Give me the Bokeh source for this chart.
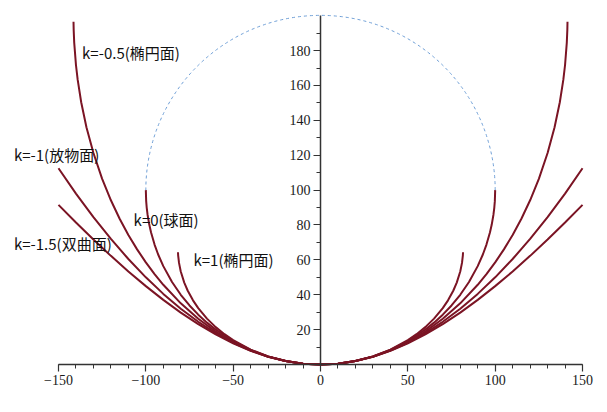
import math
from bokeh.plotting import figure
from bokeh.models import FixedTicker, Label
from bokeh.embed import file_html
from bokeh.resources import INLINE

# ---- data (sag z vs radius r; curves are symmetric) ----
r_k1 = [0, 10, 20, 30, 40, 50, 55, 60, 65, 70, 73, 76, 78, 80, 81, 81.5, 81.6]
z_k1 = [0, 0.50, 2.03, 4.66, 8.55, 13.96, 17.39, 21.45, 26.32, 32.35, 36.80, 42.30, 46.96, 53.33, 58.27, 62.63, 64.34]

r_k0 = [0, 10, 20, 30, 40, 50, 60, 65, 70, 75, 80, 85, 90, 93, 95, 97, 98, 99, 99.5, 99.8, 100]
z_k0 = [0, 0.50, 2.02, 4.61, 8.35, 13.40, 20.00, 24.01, 28.59, 33.86, 40.00, 47.32, 56.41, 63.24, 68.78, 75.69, 80.10, 85.89, 90.01, 93.68, 100.0]

r_km05 = [0, 10, 20, 30, 40, 50, 60, 70, 80, 90, 95, 100, 105, 110, 115, 120, 125, 130, 134, 137, 139, 140, 141, 141.3, 141.4]
z_km05 = [0, 0.50, 2.01, 4.55, 8.17, 12.92, 18.89, 26.22, 35.08, 45.73, 51.85, 58.58, 66.02, 74.29, 83.60, 94.16, 106.46, 121.26, 136.06, 150.38, 163.15, 171.72, 184.57, 191.72, 196.54]

r_km1 = [0, 10, 20, 30, 40, 50, 60, 70, 80, 90, 100, 110, 120, 130, 140, 150]
z_km1 = [0, 0.5, 2, 4.5, 8, 12.5, 18, 24.5, 32, 40.5, 50, 60.5, 72, 84.5, 98, 112.5]

r_km15 = [0, 10, 20, 30, 40, 50, 60, 70, 80, 90, 100, 110, 120, 130, 140, 150]
z_km15 = [0, 0.50, 1.99, 4.45, 7.85, 12.13, 17.24, 23.16, 29.78, 37.07, 44.95, 53.36, 62.30, 71.66, 81.43, 91.55]

labels = ["k=-0.5(椭円面)", "k=-1(放物面)", "k=0(球面)", "k=-1.5(双曲面)", "k=1(椭円面)"]
x_ticks = [-150, -100, -50, 0, 50, 100, 150]
y_ticks = [20, 40, 60, 80, 100, 120, 140, 160, 180]
sphere_radius = 100

CURVE = "#7b1424"

p = figure(width=607, height=412, output_backend="svg", toolbar_location=None,
           x_range=(-183.2, 164.3), y_range=(-27.5, 208.7), min_border=0)
p.outline_line_color = None
p.xgrid.visible = False
p.ygrid.visible = False
p.background_fill_color = "white"
p.border_fill_color = "white"

# dashed reference circle (upper half)
p.arc(x=0, y=sphere_radius, radius=sphere_radius, start_angle=0, end_angle=math.pi,
      line_color="#6f9fd6", line_width=1, line_dash="3 3")

def mirror(r, z):
    xs = [-v for v in reversed(r)] + list(r[1:])
    ys = list(reversed(z)) + list(z[1:])
    return xs, ys

for r, z in [(r_km15, z_km15), (r_km1, z_km1), (r_km05, z_km05), (r_k0, z_k0), (r_k1, z_k1)]:
    xs, ys = mirror(r, z)
    p.line(xs, ys, line_color=CURVE, line_width=2)

# axes crossing at the origin
minus = "\u2212"
ax = p.xaxis[0]
ax.fixed_location = 0
ax.bounds = (-150, 150)
ax.ticker = FixedTicker(ticks=x_ticks, minor_ticks=list(range(-150, 151, 10)))
ax.major_label_overrides = {t: (minus + str(-t) if t < 0 else str(t)) for t in x_ticks}
ay = p.yaxis[0]
ay.fixed_location = 0
ay.bounds = (0, 200)
ay.ticker = FixedTicker(ticks=y_ticks, minor_ticks=list(range(10, 200, 10)))

for a in (ax, ay):
    a.axis_line_color = "#333333"
    a.axis_line_width = 1.5
    a.major_tick_line_color = "#333333"
    a.minor_tick_line_color = "#333333"
    a.major_tick_line_width = 1.2
    a.minor_tick_line_width = 1
    a.major_tick_out = 7
    a.major_tick_in = 0
    a.minor_tick_out = 4
    a.minor_tick_in = 0
    a.major_label_text_font = "Liberation Serif"
    a.major_label_text_font_size = "14px"
    a.major_label_text_color = "#1a1a1a"
    a.major_label_standoff = 3

# curve annotations
label_pos = [(-136.5, 178.8), (-175.5, 120.6), (-107.0, 83.2), (-175.5, 69.4), (-72.7, 60.2)]
for txt, (lx, ly) in zip(labels, label_pos):
    p.add_layout(Label(x=lx, y=ly, text=txt, text_font="Noto Sans CJK SC",
                       text_font_size="15px", text_baseline="middle", text_color="#111111"))

open("out.html", "w").write(file_html(p, INLINE))
